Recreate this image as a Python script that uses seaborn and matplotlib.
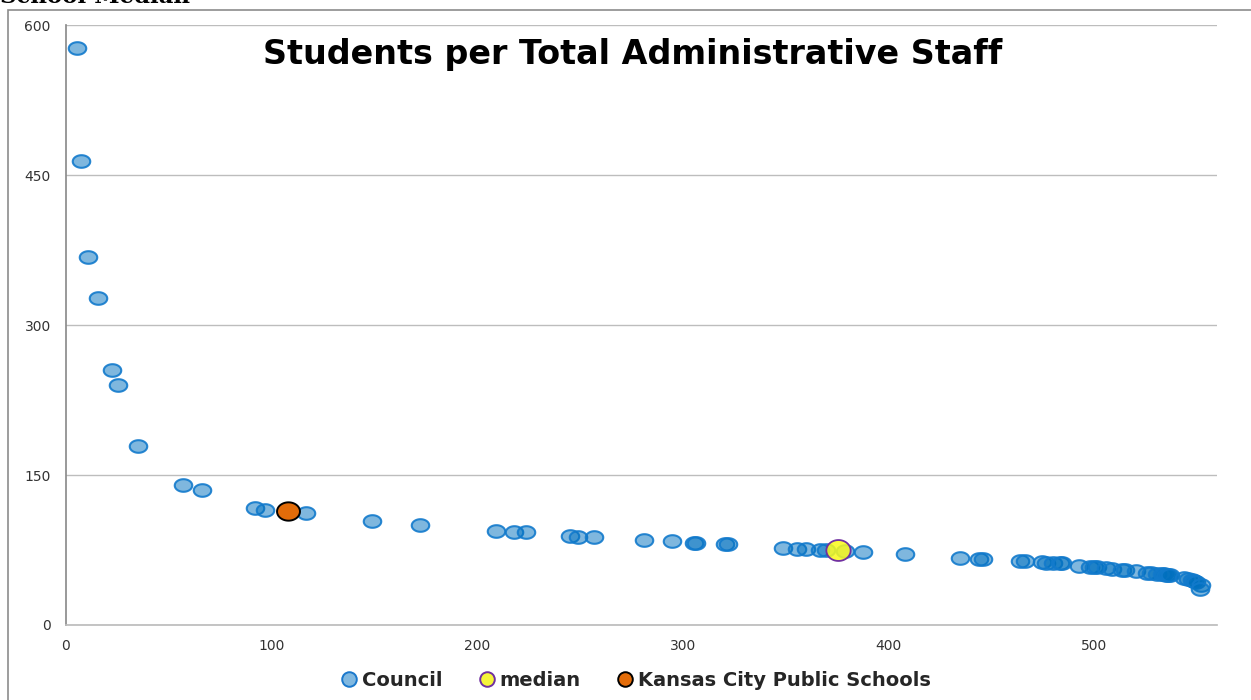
import numpy as np
import pandas as pd
import matplotlib
matplotlib.use("Agg")
import matplotlib.pyplot as plt
from matplotlib.path import Path
from matplotlib.lines import Line2D
from matplotlib.patches import Rectangle
import seaborn as sns

# Council districts: rank position vs. students per administrative staff member
council_rank = [5.4, 7.3, 10.7, 15.6, 22.4, 25.3, 35, 57, 66, 92, 97, 117, 149, 172,
                209, 218, 224, 245, 249, 257, 281, 295, 305.5, 306.4, 320.5, 322,
                349, 355.5, 360, 367, 370, 379, 388, 408, 435, 444, 446, 464, 466.5,
                475, 477, 480, 483.5, 484.5, 493, 498, 500, 501.5, 506, 509, 513.6,
                515, 520.4, 526, 528, 531, 533, 534, 535, 536, 537, 544, 546, 548,
                549, 550, 552, 551.5]
council_ratio = [577, 464, 368, 327, 255, 240, 179, 140, 135, 117, 115, 112, 104, 100,
                 94, 93, 93, 89, 88, 88, 85, 84, 82, 82, 81, 81,
                 77, 76, 76, 75, 75, 74, 73, 71, 67, 66, 66, 64, 64,
                 63, 62, 62, 62, 62, 59, 58, 58, 58, 57, 56, 55,
                 55, 54, 52, 52, 51, 51, 51, 50, 50, 50, 47, 46, 45,
                 44, 43, 40, 36]
median_rank = [375.5]
median_ratio = [75]
kc_rank = [108]
kc_ratio = [114]

x_ticks = [0, 100, 200, 300, 400, 500]
y_ticks = [0, 150, 300, 450, 600]

council = pd.DataFrame({"rank": council_rank, "ratio": council_ratio})
median = pd.DataFrame({"rank": median_rank, "ratio": median_ratio})
kc = pd.DataFrame({"rank": kc_rank, "ratio": kc_ratio})

sns.set_theme(style="white")
plt.rcParams["font.family"] = ["DejaVu Sans"]


def ellipse_marker(ratio):
    """Closed elliptical marker path, flattened vertically by `ratio`."""
    t = np.linspace(0, 2 * np.pi, 73)
    return Path(np.column_stack([np.cos(t), ratio * np.sin(t)]), closed=True)


fig = plt.figure(figsize=(12.51, 7.0), dpi=100)
W, H = 1251, 700
ax = fig.add_axes([66 / W, 1 - 625 / H, (1217 - 66) / W, 600 / H])

blue = (0.0, 0.44, 0.75)
sns.scatterplot(data=council, x="rank", y="ratio", ax=ax, marker=ellipse_marker(0.72),
                s=12.6 ** 2, color=blue, edgecolor=blue, linewidth=1.5, legend=False, zorder=3)
ax.collections[-1].set_facecolor((*blue, 0.5))
ax.collections[-1].set_edgecolor((0.07, 0.48, 0.8, 0.9))

sns.scatterplot(data=median, x="rank", y="ratio", ax=ax, marker=ellipse_marker(0.86),
                s=17.5 ** 2, color="#F0F032", edgecolor="#7030A0", linewidth=1.3,
                legend=False, zorder=4)
ax.collections[-1].set_facecolor((0.98, 0.98, 0.1, 0.85))

sns.scatterplot(data=kc, x="rank", y="ratio", ax=ax, marker=ellipse_marker(0.8),
                s=16.5 ** 2, color="#E36C09", edgecolor="black", linewidth=1.4,
                legend=False, zorder=5)

ax.set_xlim(0, 560)
ax.set_ylim(0, 600)
ax.set_xticks(x_ticks)
ax.set_yticks(y_ticks)
ax.set_xlabel("")
ax.set_ylabel("")
ax.yaxis.grid(True, color="#BDBDBD", linewidth=1.0)
ax.xaxis.grid(False)
ax.set_axisbelow(True)
for side in ("top", "right"):
    ax.spines[side].set_visible(False)
ax.spines["left"].set_color("#8C8C8C")
ax.spines["bottom"].set_color("#BDBDBD")
ax.tick_params(axis="both", which="major", labelsize=10, labelcolor="#333333",
               colors="#999999", length=5, width=1.0, direction="out")
ax.tick_params(axis="y", pad=6)
ax.tick_params(axis="x", pad=5)
for lbl in ax.get_xticklabels() + ax.get_yticklabels():
    lbl.set_color("#333333")

fig.text(633 / W, 1 - 64 / H, "Students per Total Administrative Staff",
         ha="center", va="baseline", fontsize=24, fontweight="bold",
         family=["DejaVu Sans"], color="black")

# outer chart frame
fig.patches.append(Rectangle((8 / W, -0.1), 1.2, 1 - 10 / H + 0.1, transform=fig.transFigure,
                             fill=False, edgecolor="#8C8C8C", linewidth=1.2))

fig.text(0.0, 1 - 3 / H, "School Median", ha="left", va="baseline", fontsize=16.5,
         fontweight="bold", family=["DejaVu Serif"], color="black")

handles = [
    Line2D([], [], marker="o", linestyle="none", markersize=10.5,
           markerfacecolor=(0.5, 0.72, 0.88), markeredgecolor=(0.1, 0.47, 0.8), markeredgewidth=1.4),
    Line2D([], [], marker="o", linestyle="none", markersize=10.5,
           markerfacecolor="#F5F53A", markeredgecolor="#7030A0", markeredgewidth=1.4),
    Line2D([], [], marker="o", linestyle="none", markersize=10.5,
           markerfacecolor="#E36C09", markeredgecolor="black", markeredgewidth=1.4),
]
fig.legend(handles, ["Council", "median", "Kansas City Public Schools"],
           loc="center", bbox_to_anchor=(634 / W, 1 - 680 / H), ncol=3, frameon=False,
           handletextpad=0.05, columnspacing=1.7, handlelength=1.2,
           prop={"family": "DejaVu Sans", "weight": "bold", "size": 14})

fig.savefig("out.png", dpi=100)
